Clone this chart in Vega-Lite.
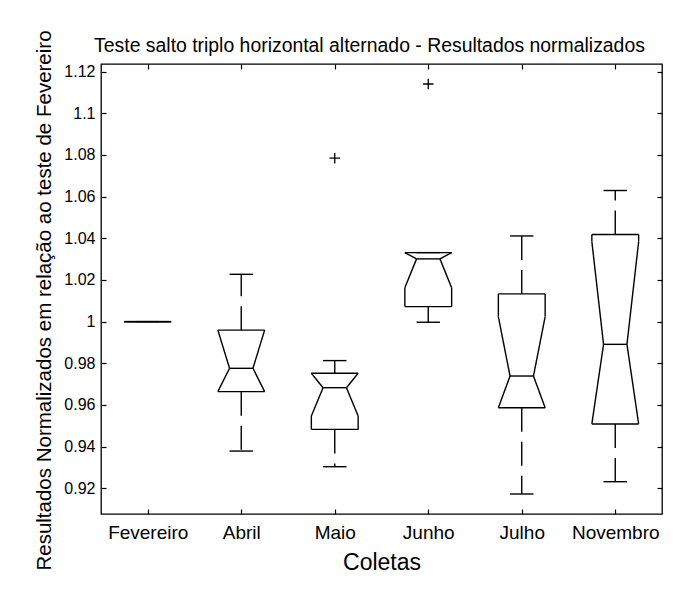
{
  "$schema": "https://vega.github.io/schema/vega-lite/v6.json",
  "width": 561,
  "height": 450,
  "autosize": {"type": "none"},
  "padding": {"left": 101, "top": 64, "right": 34, "bottom": 88},
  "background": "white",
  "title": {"text": "Teste salto triplo horizontal alternado - Resultados normalizados", "fontSize": 19.4, "font": "Liberation Sans", "fontWeight": "normal", "color": "black", "anchor": "middle", "offset": 12, "dy": 38, "dx": -12},
  "datasets": {
    "caixas": [
      {"coleta": "Fevereiro", "q1": 1.0, "q3": 1.0, "mediana": 1.0, "entalhe_sup": 1.0, "entalhe_inf": 1.0, "bigode_sup": 1.0, "bigode_inf": 1.0},
      {"coleta": "Abril", "q1": 0.9664, "q3": 0.9959, "mediana": 0.9776, "entalhe_sup": 0.9959, "entalhe_inf": 0.9664, "bigode_sup": 1.0227, "bigode_inf": 0.9379},
      {"coleta": "Maio", "q1": 0.9483, "q3": 0.9752, "mediana": 0.9683, "entalhe_sup": 0.9752, "entalhe_inf": 0.9547, "bigode_sup": 0.9813, "bigode_inf": 0.9304},
      {"coleta": "Junho", "q1": 1.0072, "q3": 1.0331, "mediana": 1.0301, "entalhe_sup": 1.0331, "entalhe_inf": 1.0163, "bigode_sup": 1.0331, "bigode_inf": 0.9997},
      {"coleta": "Julho", "q1": 0.9587, "q3": 1.0133, "mediana": 0.9739, "entalhe_sup": 1.0024, "entalhe_inf": 0.9587, "bigode_sup": 1.0411, "bigode_inf": 0.9173},
      {"coleta": "Novembro", "q1": 0.9509, "q3": 1.0418, "mediana": 0.9891, "entalhe_sup": 1.0384, "entalhe_inf": 0.9509, "bigode_sup": 1.0629, "bigode_inf": 0.9232}
    ],
    "outliers": [
      {"coleta": "Maio", "valor": 1.0784},
      {"coleta": "Junho", "valor": 1.114}
    ]
  },
  "data": {"name": "caixas"},
  "encoding": {
    "x": {"field": "coleta", "type": "nominal", "sort": ["Fevereiro", "Abril", "Maio", "Junho", "Julho", "Novembro"], "scale": {"type": "point", "padding": 0.5}, "axis": null}
  },
  "layer": [
    {
      "mark": {"type": "rule", "xOffset": -23.4, "x2Offset": 23.4, "stroke": "black", "strokeWidth": 1.4},
      "encoding": {
        "x": {"field": "coleta", "type": "nominal", "sort": ["Fevereiro", "Abril", "Maio", "Junho", "Julho", "Novembro"], "scale": {"type": "point", "padding": 0.5},
              "axis": {"orient": "bottom", "title": "Coletas", "labelAngle": 0, "labelFontSize": 19, "labelPadding": 14, "tickSize": -5, "titleFontSize": 23, "titlePadding": 9}},
        "x2": {"field": "coleta"},
        "y": {"field": "q3", "type": "quantitative", "scale": {"domain": [0.9077, 1.1236], "nice": false, "zero": false},
              "axis": {"orient": "left", "title": "Resultados Normalizados em relação ao teste de Fevereiro", "titleY": 236, "values": [0.92, 0.94, 0.96, 0.98, 1, 1.02, 1.04, 1.06, 1.08, 1.1, 1.12], "format": "~g", "labelFontSize": 16, "labelPadding": 11, "tickSize": -5, "titleFontSize": 20.5, "titlePadding": 9}}
      }
    },
    {
      "mark": {"type": "rule", "xOffset": -23.4, "x2Offset": 23.4, "stroke": "black", "strokeWidth": 1.4},
      "encoding": {
        "x": {"field": "coleta", "type": "nominal", "sort": ["Fevereiro", "Abril", "Maio", "Junho", "Julho", "Novembro"], "scale": {"type": "point", "padding": 0.5},
              "axis": {"orient": "top", "title": null, "labels": false, "tickSize": -5}},
        "x2": {"field": "coleta"},
        "y": {"field": "q1", "type": "quantitative", "scale": {"domain": [0.9077, 1.1236], "nice": false, "zero": false},
              "axis": {"orient": "right", "title": null, "labels": false, "values": [0.92, 0.94, 0.96, 0.98, 1, 1.02, 1.04, 1.06, 1.08, 1.1, 1.12], "tickSize": -5}}
      }
    },
    {
      "mark": {"type": "rule", "xOffset": -11.7, "x2Offset": 11.7, "stroke": "black", "strokeWidth": 1.4},
      "encoding": {
        "x2": {"field": "coleta"},
        "y": {"field": "mediana", "type": "quantitative", "scale": {"domain": [0.9077, 1.1236], "nice": false, "zero": false}, "axis": null}
      }
    },
    {
      "mark": {"type": "rule", "xOffset": -11.7, "x2Offset": 11.7, "stroke": "black", "strokeWidth": 1.4},
      "encoding": {
        "x2": {"field": "coleta"},
        "y": {"field": "bigode_sup", "type": "quantitative", "scale": {"domain": [0.9077, 1.1236], "nice": false, "zero": false}, "axis": null}
      }
    },
    {
      "mark": {"type": "rule", "xOffset": -11.7, "x2Offset": 11.7, "stroke": "black", "strokeWidth": 1.4},
      "encoding": {
        "x2": {"field": "coleta"},
        "y": {"field": "bigode_inf", "type": "quantitative", "scale": {"domain": [0.9077, 1.1236], "nice": false, "zero": false}, "axis": null}
      }
    },
    {
      "mark": {"type": "rule", "stroke": "black", "strokeWidth": 1.4, "strokeDash": [24, 10]},
      "encoding": {
        "y": {"field": "q3", "type": "quantitative", "scale": {"domain": [0.9077, 1.1236], "nice": false, "zero": false}, "axis": null},
        "y2": {"field": "bigode_sup"}
      }
    },
    {
      "mark": {"type": "rule", "stroke": "black", "strokeWidth": 1.4, "strokeDash": [24, 10]},
      "encoding": {
        "y": {"field": "q1", "type": "quantitative", "scale": {"domain": [0.9077, 1.1236], "nice": false, "zero": false}, "axis": null},
        "y2": {"field": "bigode_inf"}
      }
    },
    {
      "mark": {"type": "rule", "xOffset": -23.4, "stroke": "black", "strokeWidth": 1.4},
      "encoding": {
        "y": {"field": "q3", "type": "quantitative", "scale": {"domain": [0.9077, 1.1236], "nice": false, "zero": false}, "axis": null},
        "y2": {"field": "entalhe_sup"}
      }
    },
    {
      "mark": {"type": "rule", "xOffset": 23.4, "stroke": "black", "strokeWidth": 1.4},
      "encoding": {
        "y": {"field": "q3", "type": "quantitative", "scale": {"domain": [0.9077, 1.1236], "nice": false, "zero": false}, "axis": null},
        "y2": {"field": "entalhe_sup"}
      }
    },
    {
      "mark": {"type": "rule", "xOffset": -23.4, "stroke": "black", "strokeWidth": 1.4},
      "encoding": {
        "y": {"field": "q1", "type": "quantitative", "scale": {"domain": [0.9077, 1.1236], "nice": false, "zero": false}, "axis": null},
        "y2": {"field": "entalhe_inf"}
      }
    },
    {
      "mark": {"type": "rule", "xOffset": 23.4, "stroke": "black", "strokeWidth": 1.4},
      "encoding": {
        "y": {"field": "q1", "type": "quantitative", "scale": {"domain": [0.9077, 1.1236], "nice": false, "zero": false}, "axis": null},
        "y2": {"field": "entalhe_inf"}
      }
    },
    {
      "mark": {"type": "rule", "xOffset": -23.4, "x2Offset": -11.7, "stroke": "black", "strokeWidth": 1.4},
      "encoding": {
        "x2": {"field": "coleta"},
        "y": {"field": "entalhe_sup", "type": "quantitative", "scale": {"domain": [0.9077, 1.1236], "nice": false, "zero": false}, "axis": null},
        "y2": {"field": "mediana"}
      }
    },
    {
      "mark": {"type": "rule", "xOffset": 23.4, "x2Offset": 11.7, "stroke": "black", "strokeWidth": 1.4},
      "encoding": {
        "x2": {"field": "coleta"},
        "y": {"field": "entalhe_sup", "type": "quantitative", "scale": {"domain": [0.9077, 1.1236], "nice": false, "zero": false}, "axis": null},
        "y2": {"field": "mediana"}
      }
    },
    {
      "mark": {"type": "rule", "xOffset": -23.4, "x2Offset": -11.7, "stroke": "black", "strokeWidth": 1.4},
      "encoding": {
        "x2": {"field": "coleta"},
        "y": {"field": "entalhe_inf", "type": "quantitative", "scale": {"domain": [0.9077, 1.1236], "nice": false, "zero": false}, "axis": null},
        "y2": {"field": "mediana"}
      }
    },
    {
      "mark": {"type": "rule", "xOffset": 23.4, "x2Offset": 11.7, "stroke": "black", "strokeWidth": 1.4},
      "encoding": {
        "x2": {"field": "coleta"},
        "y": {"field": "entalhe_inf", "type": "quantitative", "scale": {"domain": [0.9077, 1.1236], "nice": false, "zero": false}, "axis": null},
        "y2": {"field": "mediana"}
      }
    },
    {
      "data": {"name": "outliers"},
      "mark": {"type": "point", "shape": "M-1,0L1,0M0,-1L0,1", "filled": false, "stroke": "black", "strokeWidth": 1.3, "size": 110, "opacity": 1},
      "encoding": {
        "y": {"field": "valor", "type": "quantitative", "scale": {"domain": [0.9077, 1.1236], "nice": false, "zero": false}, "axis": null}
      }
    }
  ],
  "resolve": {"axis": {"x": "independent", "y": "independent"}},
  "config": {
    "font": "Liberation Sans",
    "view": {"stroke": "black", "strokeWidth": 1.3},
    "axis": {"labelFont": "Liberation Sans", "titleFont": "Liberation Sans", "labelColor": "black", "titleColor": "black", "tickColor": "black", "tickWidth": 1.2, "domain": false, "grid": false, "titleFontWeight": "normal"}
  }
}
